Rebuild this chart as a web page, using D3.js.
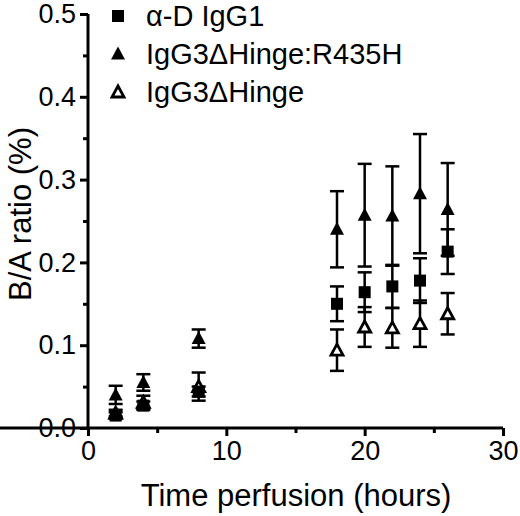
<!DOCTYPE html>
<html>
<head>
<meta charset="utf-8">
<script src="https://cdn.jsdelivr.net/npm/d3@7"></script>
<style>
html,body{margin:0;padding:0;background:#fff;}
svg{display:block;font-family:"Liberation Sans",Arial,sans-serif;}
</style>
</head>
<body>
<svg id="chart" width="520" height="516"></svg>
<script>
// ---- data ----
const times = [2, 4, 8, 18, 20, 22, 24, 26];
const seriesNames = ["α-D IgG1", "IgG3ΔHinge:R435H", "IgG3ΔHinge"];
const igg1Mean  = [0.015, 0.027, 0.044, 0.150, 0.164, 0.171, 0.178, 0.213];
const igg1Err   = [0.004, 0.005, 0.006, 0.021, 0.024, 0.026, 0.027, 0.027];
const r435hMean = [0.040, 0.055, 0.108, 0.240, 0.257, 0.256, 0.283, 0.264];
const r435hErr  = [0.011, 0.010, 0.011, 0.046, 0.062, 0.060, 0.072, 0.056];
const hingeMean = [0.018, 0.031, 0.050, 0.094, 0.122, 0.121, 0.126, 0.138];
const hingeErr  = [0.004, 0.008, 0.017, 0.025, 0.024, 0.024, 0.028, 0.025];
const xTicks = [0, 10, 20, 30];
const xMinor = [5, 15, 25];
const yTicks = [0.0, 0.1, 0.2, 0.3, 0.4, 0.5];
const yMinor = [0.05, 0.15, 0.25, 0.35, 0.45];
const xTitle = "Time perfusion (hours)";
const yTitle = "B/A ratio (%)";

const svg = d3.select("#chart");
const x = d3.scaleLinear().domain([0, 30]).range([88, 503]);
const y = d3.scaleLinear().domain([0, 0.5]).range([428, 14]);

const series = [
  {name: seriesNames[0], mean: igg1Mean, err: igg1Err, shape: "square"},
  {name: seriesNames[1], mean: r435hMean, err: r435hErr, shape: "triFilled"},
  {name: seriesNames[2], mean: hingeMean, err: hingeErr, shape: "triOpen"}
];

// ---- axes ----
const fmtY = d3.format(".1f");
const gy = svg.append("g").attr("transform", `translate(${x(0)},0)`)
  .call(d3.axisLeft(y).tickValues(yTicks).tickFormat(fmtY).tickSize(8).tickPadding(4).tickSizeOuter(0));
const gyMinor = svg.append("g").attr("transform", `translate(${x(0)},0)`)
  .call(d3.axisLeft(y).tickValues(yMinor).tickFormat("").tickSize(5).tickSizeOuter(0));
const gx = svg.append("g").attr("transform", `translate(0,${y(0)})`)
  .call(d3.axisBottom(x).tickValues(xTicks).tickFormat(d3.format("d")).tickSize(8).tickPadding(5).tickSizeOuter(0));
const gxMinor = svg.append("g").attr("transform", `translate(0,${y(0)})`)
  .call(d3.axisBottom(x).tickValues(xMinor).tickFormat("").tickSize(5).tickSizeOuter(0));

[gy, gyMinor, gx, gxMinor].forEach(g => {
  g.select(".domain").attr("stroke", "#000").attr("stroke-width", 3);
  g.selectAll(".tick line").attr("stroke", "#000").attr("stroke-width", 3);
  g.selectAll(".tick text").attr("fill", "#000").attr("font-size", 27)
    .attr("font-family", "Liberation Sans, Arial, sans-serif");
});
gyMinor.select(".domain").remove();
gxMinor.select(".domain").remove();
gy.select(".domain").attr("d", `M0,${y(0.5)}V${y(0) + 1.5}`);
gx.select(".domain").attr("d", `M-1.5,0H${x(30)}`);

svg.append("text").attr("x", 296).attr("y", 506)
  .attr("text-anchor", "middle").attr("font-size", 31).attr("fill", "#000").text(xTitle);
svg.append("text").attr("transform", `translate(31,214) rotate(-90)`)
  .attr("text-anchor", "middle").attr("font-size", 31).attr("fill", "#000").text(yTitle);

// ---- markers ----
function drawMarker(g, shape, cx, cy) {
  if (shape === "square") {
    g.append("rect").attr("x", cx - 6).attr("y", cy - 6).attr("width", 12).attr("height", 12).attr("fill", "#000");
  } else if (shape === "triFilled") {
    g.append("path").attr("d", `M${cx},${cy - 7.5}L${cx + 7},${cy + 5.5}L${cx - 7},${cy + 5.5}Z`).attr("fill", "#000");
  } else {
    g.append("path").attr("d", `M${cx},${cy - 6}L${cx + 6},${cy + 5}L${cx - 6},${cy + 5}Z`)
      .attr("fill", "#fff").attr("stroke", "#000").attr("stroke-width", 2.8).attr("stroke-linejoin", "miter");
  }
}

const plot = svg.append("g");
series.forEach(s => {
  const g = plot.append("g");
  times.forEach((t, i) => {
    const cx = x(t), lo = y(s.mean[i] - s.err[i]), hi = y(s.mean[i] + s.err[i]);
    g.append("line").attr("x1", cx).attr("x2", cx).attr("y1", lo).attr("y2", hi).attr("stroke", "#000").attr("stroke-width", 2.5);
    [lo, hi].forEach(yy => g.append("line").attr("x1", cx - 7).attr("x2", cx + 7).attr("y1", yy).attr("y2", yy).attr("stroke", "#000").attr("stroke-width", 2.5));
  });
});
[series[2], series[0], series[1]].forEach(s => {
  const g = plot.append("g");
  times.forEach((t, i) => drawMarker(g, s.shape, x(t), y(s.mean[i])));
});

// ---- legend ----
const legY = [16, 54, 92];
const leg = svg.append("g");
series.forEach((s, i) => {
  drawMarker(leg, s.shape, 118, legY[i]);
  leg.append("text").attr("x", 146).attr("y", legY[i] + 10).attr("font-size", 29).attr("fill", "#000").text(s.name);
});
</script>
</body>
</html>
